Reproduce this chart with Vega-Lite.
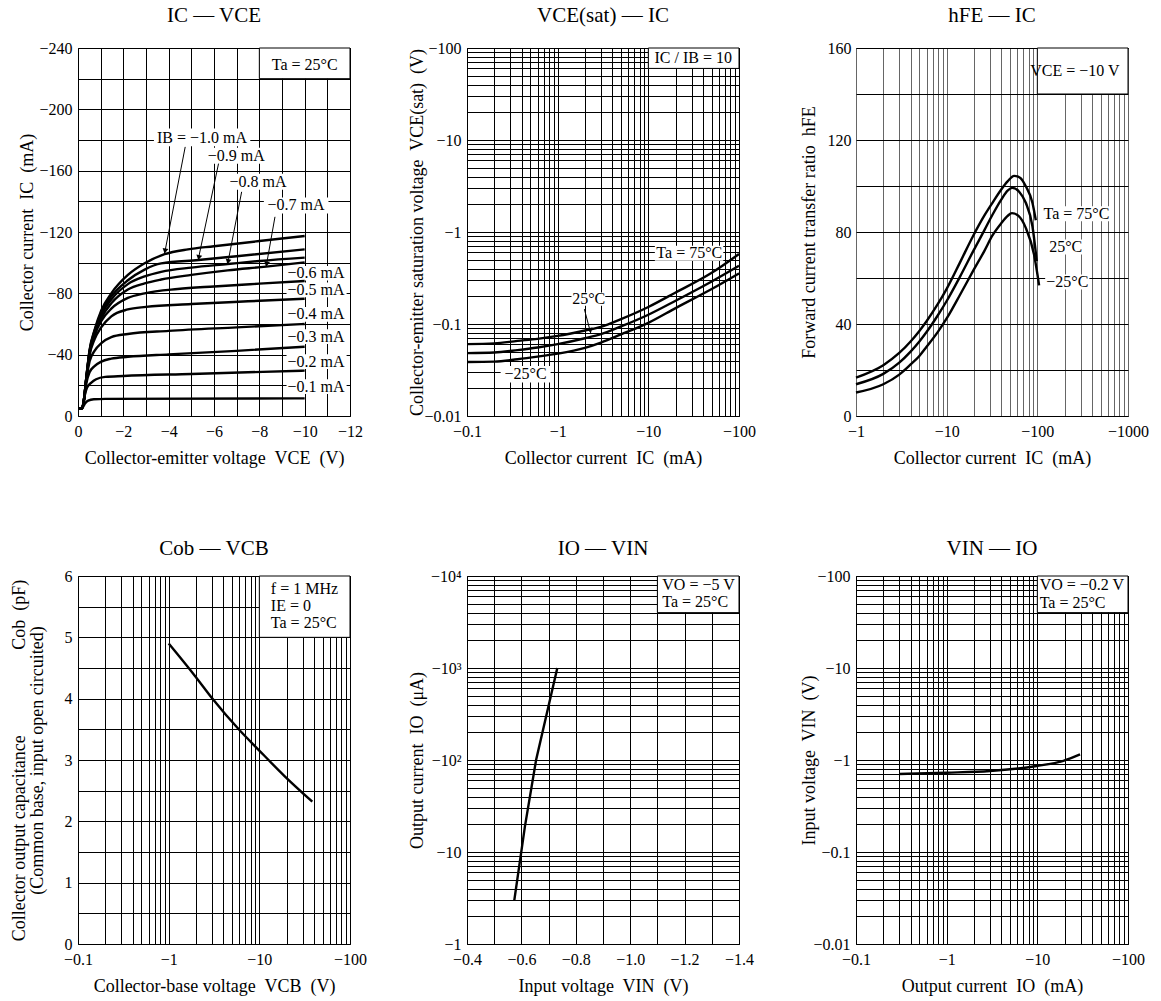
{
  "$schema": "https://vega.github.io/schema/vega-lite/v6.json",
  "background": "white",
  "padding": {"left": 9, "top": 4, "right": 5, "bottom": 5},
  "columns": 3,
  "spacing": {"row": 160, "column": 117},
  "bounds": "flush",
  "config": {
    "font": "Liberation Serif",
    "view": {"stroke": "black", "strokeWidth": 1},
    "axis": {
      "grid": true, "gridColor": "black", "gridOpacity": 1, "gridWidth": 1,
      "domain": false, "ticks": false, "tickSize": 0,
      "labelFont": "Liberation Serif", "labelFontSize": 16, "labelColor": "black",
      "labelOverlap": false, "labelFlush": false, "labelBound": false,
      "titleFont": "Liberation Serif", "titleFontSize": 18, "titleFontWeight": "normal",
      "titleColor": "black", "titleBaseline": "alphabetic"
    },
    "axisX": {"labelBaseline": "alphabetic", "labelPadding": 20, "titleY": 47},
    "axisY": {"labelPadding": 6, "labelBaseline": "middle"},
    "title": {"font": "Liberation Serif", "fontSize": 21, "fontWeight": "normal", "color": "black", "frame": "group", "anchor": "middle", "baseline": "alphabetic", "offset": 14},
    "text": {"font": "Liberation Serif", "fontSize": 16, "color": "black"}
  },
  "datasets": {
    "p1_curves": [
      {"x":0,"y":5,"s":"1.0"},{"x":0.18,"y":5,"s":"1.0"},{"x":0.26,"y":10.4,"s":"1.0"},{"x":0.37,"y":25.6,"s":"1.0"},{"x":0.51,"y":43,"s":"1.0"},{"x":0.73,"y":56,"s":"1.0"},{"x":1.03,"y":69,"s":"1.0"},{"x":1.47,"y":80,"s":"1.0"},{"x":2.2,"y":92,"s":"1.0"},{"x":2.94,"y":99.6,"s":"1.0"},{"x":3.82,"y":105.5,"s":"1.0"},{"x":4.85,"y":108.7,"s":"1.0"},{"x":6,"y":110.7,"s":"1.0"},{"x":8,"y":114.1,"s":"1.0"},{"x":10,"y":117.4,"s":"1.0"},
      {"x":0,"y":5,"s":"0.9"},{"x":0.18,"y":5,"s":"0.9"},{"x":0.26,"y":10.4,"s":"0.9"},{"x":0.37,"y":25.4,"s":"0.9"},{"x":0.51,"y":42.5,"s":"0.9"},{"x":0.73,"y":55.5,"s":"0.9"},{"x":1.03,"y":67.5,"s":"0.9"},{"x":1.47,"y":78,"s":"0.9"},{"x":2.2,"y":88.5,"s":"0.9"},{"x":2.94,"y":95.5,"s":"0.9"},{"x":3.67,"y":99.5,"s":"0.9"},{"x":5.32,"y":101.7,"s":"0.9"},{"x":7,"y":104.2,"s":"0.9"},{"x":10,"y":108.7,"s":"0.9"},
      {"x":0,"y":5,"s":"0.8"},{"x":0.18,"y":5,"s":"0.8"},{"x":0.26,"y":10.4,"s":"0.8"},{"x":0.37,"y":25.2,"s":"0.8"},{"x":0.51,"y":42,"s":"0.8"},{"x":0.73,"y":54.5,"s":"0.8"},{"x":1.03,"y":66,"s":"0.8"},{"x":1.47,"y":76,"s":"0.8"},{"x":2.2,"y":86,"s":"0.8"},{"x":2.94,"y":91,"s":"0.8"},{"x":3.67,"y":94,"s":"0.8"},{"x":5,"y":96.8,"s":"0.8"},{"x":6.6,"y":99.1,"s":"0.8"},{"x":8,"y":101.1,"s":"0.8"},{"x":10,"y":103.3,"s":"0.8"},
      {"x":0,"y":5,"s":"0.7"},{"x":0.18,"y":5,"s":"0.7"},{"x":0.26,"y":10.4,"s":"0.7"},{"x":0.37,"y":25,"s":"0.7"},{"x":0.51,"y":41.5,"s":"0.7"},{"x":0.73,"y":53.5,"s":"0.7"},{"x":1.03,"y":64,"s":"0.7"},{"x":1.47,"y":73.5,"s":"0.7"},{"x":2.2,"y":82.5,"s":"0.7"},{"x":2.94,"y":86.5,"s":"0.7"},{"x":3.67,"y":89,"s":"0.7"},{"x":5,"y":92,"s":"0.7"},{"x":6.6,"y":95,"s":"0.7"},{"x":8.3,"y":97.4,"s":"0.7"},{"x":10,"y":100.2,"s":"0.7"},
      {"x":0,"y":5,"s":"0.6"},{"x":0.18,"y":5,"s":"0.6"},{"x":0.26,"y":10.4,"s":"0.6"},{"x":0.37,"y":24.8,"s":"0.6"},{"x":0.51,"y":41,"s":"0.6"},{"x":0.73,"y":52.5,"s":"0.6"},{"x":1.03,"y":62,"s":"0.6"},{"x":1.47,"y":70,"s":"0.6"},{"x":2.2,"y":77,"s":"0.6"},{"x":2.94,"y":80,"s":"0.6"},{"x":4.4,"y":82.8,"s":"0.6"},{"x":6,"y":84.5,"s":"0.6"},{"x":8,"y":86.3,"s":"0.6"},{"x":10,"y":88,"s":"0.6"},
      {"x":0,"y":5,"s":"0.5"},{"x":0.18,"y":5,"s":"0.5"},{"x":0.26,"y":10.4,"s":"0.5"},{"x":0.37,"y":24.5,"s":"0.5"},{"x":0.51,"y":39.5,"s":"0.5"},{"x":0.73,"y":50,"s":"0.5"},{"x":1.03,"y":58,"s":"0.5"},{"x":1.47,"y":65,"s":"0.5"},{"x":2.2,"y":69.5,"s":"0.5"},{"x":3,"y":71.2,"s":"0.5"},{"x":5,"y":73,"s":"0.5"},{"x":7.5,"y":74.8,"s":"0.5"},{"x":10,"y":76.5,"s":"0.5"},
      {"x":0,"y":5,"s":"0.4"},{"x":0.18,"y":5,"s":"0.4"},{"x":0.26,"y":10.2,"s":"0.4"},{"x":0.37,"y":24,"s":"0.4"},{"x":0.51,"y":35.5,"s":"0.4"},{"x":0.73,"y":42.5,"s":"0.4"},{"x":1.03,"y":47.5,"s":"0.4"},{"x":1.47,"y":51.5,"s":"0.4"},{"x":2.2,"y":53.5,"s":"0.4"},{"x":4,"y":55.5,"s":"0.4"},{"x":7,"y":57.8,"s":"0.4"},{"x":10,"y":60,"s":"0.4"},
      {"x":0,"y":5,"s":"0.3"},{"x":0.18,"y":5,"s":"0.3"},{"x":0.26,"y":10,"s":"0.3"},{"x":0.37,"y":21.5,"s":"0.3"},{"x":0.51,"y":28.5,"s":"0.3"},{"x":0.73,"y":32.5,"s":"0.3"},{"x":1.03,"y":35.5,"s":"0.3"},{"x":1.47,"y":37.4,"s":"0.3"},{"x":2.2,"y":38.6,"s":"0.3"},{"x":4,"y":40.2,"s":"0.3"},{"x":7,"y":42.5,"s":"0.3"},{"x":10,"y":45.2,"s":"0.3"},
      {"x":0,"y":5,"s":"0.2"},{"x":0.18,"y":5,"s":"0.2"},{"x":0.24,"y":8,"s":"0.2"},{"x":0.3,"y":13.5,"s":"0.2"},{"x":0.4,"y":18.5,"s":"0.2"},{"x":0.59,"y":21.8,"s":"0.2"},{"x":0.8,"y":24,"s":"0.2"},{"x":1.2,"y":25.5,"s":"0.2"},{"x":2,"y":26.1,"s":"0.2"},{"x":5,"y":27.4,"s":"0.2"},{"x":10,"y":29.6,"s":"0.2"},
      {"x":0,"y":5,"s":"0.1"},{"x":0.18,"y":5,"s":"0.1"},{"x":0.3,"y":8,"s":"0.1"},{"x":0.45,"y":10,"s":"0.1"},{"x":0.7,"y":10.9,"s":"0.1"},{"x":1.2,"y":11.2,"s":"0.1"},{"x":10,"y":11.5,"s":"0.1"}
    ],
    "p1_text": [
      {"x":10.0,"y":228.7,"label":"Ta = 25°C"},
      {"x":5.47,"y":181.6,"label":"IB = −1.0 mA"},
      {"x":6.98,"y":169.7,"label":"−0.9 mA"},
      {"x":7.94,"y":152.7,"label":"−0.8 mA"},
      {"x":9.62,"y":137.3,"label":"−0.7 mA"},
      {"x":10.5,"y":93.1,"label":"−0.6 mA"},
      {"x":10.5,"y":82.2,"label":"−0.5 mA"},
      {"x":10.5,"y":66.3,"label":"−0.4 mA"},
      {"x":10.5,"y":51.7,"label":"−0.3 mA"},
      {"x":10.5,"y":35.4,"label":"−0.2 mA"},
      {"x":10.5,"y":19.1,"label":"−0.1 mA"}
    ],
    "p1_cond": [{"x":8,"x2":12,"y":220,"y2":240}],
    "p1_lbox": [
      {"x":3.35,"x2":7.6,"y":176,"y2":187.5},
      {"x":5.6,"x2":8.35,"y":164.5,"y2":175},
      {"x":6.6,"x2":9.3,"y":147.5,"y2":158},
      {"x":8.2,"x2":11.05,"y":132,"y2":142.5},
      {"x":9.2,"x2":11.85,"y":88.3,"y2":97.9},
      {"x":9.2,"x2":11.85,"y":77.4,"y2":87},
      {"x":9.2,"x2":11.85,"y":61.5,"y2":71.1},
      {"x":9.2,"x2":11.85,"y":46.9,"y2":56.5},
      {"x":9.2,"x2":11.85,"y":30.6,"y2":40.2},
      {"x":9.2,"x2":11.85,"y":14.3,"y2":23.9}
    ],
    "p1_arrows": [
      {"x":4.73,"y":175.5,"x2":3.82,"y2":106},
      {"x":6.2,"y":164.6,"x2":5.3,"y2":101.7},
      {"x":7.22,"y":146.2,"x2":6.6,"y2":99.1},
      {"x":8.69,"y":129.9,"x2":8.3,"y2":97.4}
    ],
    "p1_heads": [
      {"x":3.84,"y":107.6},{"x":5.33,"y":103.3},{"x":6.62,"y":100.7},{"x":8.32,"y":99}
    ],
    "p2_curves": [
      {"x":0.1,"y":0.0604,"s":"75"},{"x":0.2,"y":0.0615,"s":"75"},{"x":0.36,"y":0.0655,"s":"75"},{"x":0.6,"y":0.069,"s":"75"},{"x":1,"y":0.0743,"s":"75"},{"x":2,"y":0.085,"s":"75"},{"x":3,"y":0.093,"s":"75"},{"x":5,"y":0.113,"s":"75"},{"x":10,"y":0.153,"s":"75"},{"x":20,"y":0.22,"s":"75"},{"x":50,"y":0.36,"s":"75"},{"x":100,"y":0.577,"s":"75"},
      {"x":0.1,"y":0.0483,"s":"25"},{"x":0.2,"y":0.049,"s":"25"},{"x":0.36,"y":0.052,"s":"25"},{"x":0.6,"y":0.0555,"s":"25"},{"x":1,"y":0.0604,"s":"25"},{"x":2,"y":0.07,"s":"25"},{"x":3,"y":0.0775,"s":"25"},{"x":5,"y":0.094,"s":"25"},{"x":10,"y":0.126,"s":"25"},{"x":20,"y":0.179,"s":"25"},{"x":50,"y":0.29,"s":"25"},{"x":100,"y":0.43,"s":"25"},
      {"x":0.1,"y":0.0387,"s":"-25"},{"x":0.2,"y":0.039,"s":"-25"},{"x":0.36,"y":0.0414,"s":"-25"},{"x":0.6,"y":0.0442,"s":"-25"},{"x":1,"y":0.0476,"s":"-25"},{"x":2,"y":0.055,"s":"-25"},{"x":3,"y":0.0628,"s":"-25"},{"x":5,"y":0.077,"s":"-25"},{"x":10,"y":0.103,"s":"-25"},{"x":20,"y":0.149,"s":"-25"},{"x":50,"y":0.24,"s":"-25"},{"x":100,"y":0.355,"s":"-25"}
    ],
    "p2_text": [
      {"x":31.3,"y":78.5,"label":"IC / IB = 10"},
      {"x":28.3,"y":0.596,"label":"Ta = 75°C"},
      {"x":2.2,"y":0.186,"label":"25°C"},
      {"x":0.443,"y":0.0285,"label":"−25°C"}
    ],
    "p2_cond": [{"x":10,"x2":100,"y":60,"y2":100}],
    "p2_lbox": [
      {"x":11.8,"x2":67.1,"y":0.487,"y2":0.71},
      {"x":1.42,"x2":3.35,"y":0.158,"y2":0.22},
      {"x":0.235,"x2":0.836,"y":0.0231,"y2":0.035}
    ],
    "p2_arrows": [{"x":1.97,"y":0.145,"x2":2.31,"y2":0.08}],
    "p2_heads": [{"x":2.29,"y":0.085}],
    "p3_curves": [
      {"x":1,"y":16.7,"s":"75"},{"x":2,"y":22.1,"s":"75"},{"x":3,"y":27.4,"s":"75"},{"x":4,"y":32.4,"s":"75"},{"x":5,"y":37,"s":"75"},{"x":6,"y":41.2,"s":"75"},{"x":8,"y":48.7,"s":"75"},{"x":10,"y":55.3,"s":"75"},{"x":14,"y":66.7,"s":"75"},{"x":19.7,"y":78.5,"s":"75"},{"x":26,"y":87.1,"s":"75"},{"x":32,"y":92.7,"s":"75"},{"x":40,"y":98.5,"s":"75"},{"x":47,"y":102,"s":"75"},{"x":55.5,"y":104.4,"s":"75"},{"x":65,"y":103.5,"s":"75"},{"x":74.6,"y":99.9,"s":"75"},{"x":88.3,"y":92.7,"s":"75"},{"x":96.2,"y":85.1,"s":"75"},
      {"x":1,"y":13.8,"s":"25"},{"x":2,"y":18.3,"s":"25"},{"x":3,"y":23.2,"s":"25"},{"x":4,"y":28,"s":"25"},{"x":5,"y":32.4,"s":"25"},{"x":6,"y":36.5,"s":"25"},{"x":8,"y":43.8,"s":"25"},{"x":10,"y":50,"s":"25"},{"x":14,"y":60.5,"s":"25"},{"x":19.7,"y":71.8,"s":"25"},{"x":26,"y":80.7,"s":"25"},{"x":32,"y":87.5,"s":"25"},{"x":40,"y":94.1,"s":"25"},{"x":47,"y":98,"s":"25"},{"x":53,"y":99.2,"s":"25"},{"x":63,"y":97.5,"s":"25"},{"x":74.6,"y":92.7,"s":"25"},{"x":88.3,"y":82.5,"s":"25"},{"x":98.6,"y":67.3,"s":"25"},
      {"x":1,"y":10.2,"s":"-25"},{"x":2,"y":13.8,"s":"-25"},{"x":3,"y":18,"s":"-25"},{"x":4,"y":22.4,"s":"-25"},{"x":5,"y":26.1,"s":"-25"},{"x":6,"y":30.1,"s":"-25"},{"x":8,"y":36.6,"s":"-25"},{"x":10,"y":42.4,"s":"-25"},{"x":14,"y":52.6,"s":"-25"},{"x":19.7,"y":63.3,"s":"-25"},{"x":26,"y":71.7,"s":"-25"},{"x":32,"y":78.5,"s":"-25"},{"x":40,"y":83.8,"s":"-25"},{"x":47,"y":87,"s":"-25"},{"x":52.4,"y":88.2,"s":"-25"},{"x":62,"y":87,"s":"-25"},{"x":74.6,"y":81.8,"s":"-25"},{"x":92,"y":70.2,"s":"-25"},{"x":104.6,"y":56.8,"s":"-25"}
    ],
    "p3_text": [
      {"x":260,"y":149.8,"label":"VCE = −10 V"},
      {"x":270,"y":88,"label":"Ta = 75°C"},
      {"x":205.8,"y":73.5,"label":"25°C"},
      {"x":214,"y":58.3,"label":"−25°C"}
    ],
    "p3_cond": [{"x":100,"x2":1000,"y":140,"y2":160}],
    "p3_lbox": [
      {"x":115,"x2":640,"y":84.7,"y2":91.2},
      {"x":130,"x2":330,"y":70.2,"y2":76.7},
      {"x":122,"x2":375,"y":55,"y2":61.5}
    ],
    "p4_curves": [
      {"x":1,"y":4.9},{"x":2,"y":4.35},{"x":3,"y":4.01},{"x":6.1,"y":3.48},{"x":9.75,"y":3.17},{"x":19.2,"y":2.73},{"x":38.4,"y":2.32}
    ],
    "p4_text": [
      {"x":13.4,"y":5.79,"label":"f = 1 MHz"},
      {"x":13.4,"y":5.51,"label":"IE = 0"},
      {"x":13.4,"y":5.24,"label":"Ta = 25°C"}
    ],
    "p4_cond": [{"x":10,"x2":100,"y":5,"y2":6}],
    "p5_curves": [
      {"x":0.574,"y":3},{"x":0.613,"y":19},{"x":0.654,"y":100},{"x":0.732,"y":1000}
    ],
    "p5_text": [
      {"x":1.118,"y":7943,"label":"VO = −5 V"},
      {"x":1.118,"y":5248,"label":"Ta = 25°C"}
    ],
    "p5_cond": [{"x":1.1,"x2":1.4,"y":4000,"y2":10000}],
    "p6_curves": [
      {"x":0.3,"y":0.705},{"x":1,"y":0.728},{"x":3,"y":0.76},{"x":9.8,"y":0.86},{"x":19.4,"y":0.98},{"x":29.6,"y":1.15}
    ],
    "p6_text": [
      {"x":10.6,"y":79.8,"label":"VO = −0.2 V"},
      {"x":10.6,"y":51.3,"label":"Ta = 25°C"}
    ],
    "p6_cond": [{"x":10,"x2":100,"y":40,"y2":100}]
  },
  "concat": [
    {
      "width": 272, "height": 368,
      "title": {"text": "IC — VCE"},
      "encoding": {
        "x": {"field": "x", "type": "quantitative", "scale": {"domain": [0, 12], "nice": false},
          "axis": {"title": "Collector-emitter voltage\u00a0 VCE\u00a0 (V)", "values": [0,1,2,3,4,5,6,7,8,9,10,11,12],
            "labelExpr": "datum.value % 2 == 0 ? (datum.value == 0 ? '0' : '−' + datum.value) : ''"}},
        "y": {"field": "y", "type": "quantitative", "scale": {"domain": [0, 240], "nice": false},
          "axis": {"title": "Collector current\u00a0 IC\u00a0 (mA)", "titleX": -45.5, "values": [0,20,40,60,80,100,120,140,160,180,200,220,240],
            "labelExpr": "datum.value % 40 == 0 ? (datum.value == 0 ? '0' : '−' + datum.value) : ''"}}
      },
      "layer": [
        {"data": {"name": "p1_cond"}, "mark": {"type": "rect", "fill": "white", "stroke": "black", "strokeWidth": 1}, "encoding": {"x2": {"field": "x2"}, "y2": {"field": "y2"}}},
        {"data": {"name": "p1_lbox"}, "mark": {"type": "rect", "fill": "white"}, "encoding": {"x2": {"field": "x2"}, "y2": {"field": "y2"}}},
        {"data": {"name": "p1_arrows"}, "mark": {"type": "rule", "color": "black", "strokeWidth": 1}, "encoding": {"x2": {"field": "x2"}, "y2": {"field": "y2"}}},
        {"data": {"name": "p1_heads"}, "mark": {"type": "point", "shape": "triangle-down", "angle": 11, "filled": true, "color": "black", "size": 35, "opacity": 1}},
        {"data": {"name": "p1_curves"}, "mark": {"type": "line", "color": "black", "strokeWidth": 2.4, "interpolate": "monotone"}, "encoding": {"detail": {"field": "s", "type": "nominal"}}},
        {"data": {"name": "p1_text"}, "mark": {"type": "text", "align": "center", "baseline": "middle"}, "encoding": {"text": {"field": "label"}}}
      ]
    },
    {
      "width": 272, "height": 368,
      "title": {"text": "VCE(sat) — IC"},
      "encoding": {
        "x": {"field": "x", "type": "quantitative", "scale": {"type": "log", "domain": [0.1, 100], "nice": false},
          "axis": {"title": "Collector current\u00a0 IC\u00a0 (mA)", "values": [0.1,0.2,0.3,0.4,0.5,0.6,0.7,0.8,0.9,1,2,3,4,5,6,7,8,9,10,20,30,40,50,60,70,80,90,100],
            "labelExpr": "indexof([0.1,1,10,100], datum.value) >= 0 ? '−' + datum.value : ''"}},
        "y": {"field": "y", "type": "quantitative", "scale": {"type": "log", "domain": [0.01, 100], "nice": false},
          "axis": {"title": "Collector-emitter saturation voltage\u00a0 VCE(sat)\u00a0 (V)", "titleX": -44.7, "values": [0.01,0.02,0.03,0.04,0.05,0.06,0.07,0.08,0.09,0.1,0.2,0.3,0.4,0.5,0.6,0.7,0.8,0.9,1,2,3,4,5,6,7,8,9,10,20,30,40,50,60,70,80,90,100],
            "labelExpr": "indexof([0.01,0.1,1,10,100], datum.value) >= 0 ? '−' + datum.value : ''"}}
      },
      "layer": [
        {"data": {"name": "p2_cond"}, "mark": {"type": "rect", "fill": "white", "stroke": "black", "strokeWidth": 1}, "encoding": {"x2": {"field": "x2"}, "y2": {"field": "y2"}}},
        {"data": {"name": "p2_lbox"}, "mark": {"type": "rect", "fill": "white"}, "encoding": {"x2": {"field": "x2"}, "y2": {"field": "y2"}}},
        {"data": {"name": "p2_arrows"}, "mark": {"type": "rule", "color": "black", "strokeWidth": 1}, "encoding": {"x2": {"field": "x2"}, "y2": {"field": "y2"}}},
        {"data": {"name": "p2_heads"}, "mark": {"type": "point", "shape": "triangle-down", "angle": -14, "filled": true, "color": "black", "size": 35, "opacity": 1}},
        {"data": {"name": "p2_curves"}, "mark": {"type": "line", "color": "black", "strokeWidth": 2.4, "interpolate": "monotone"}, "encoding": {"detail": {"field": "s", "type": "nominal"}}},
        {"data": {"name": "p2_text"}, "mark": {"type": "text", "align": "center", "baseline": "middle"}, "encoding": {"text": {"field": "label"}}}
      ]
    },
    {
      "width": 272, "height": 368,
      "title": {"text": "hFE — IC"},
      "encoding": {
        "x": {"field": "x", "type": "quantitative", "scale": {"type": "log", "domain": [1, 1000], "nice": false},
          "axis": {"title": "Collector current\u00a0 IC\u00a0 (mA)", "gridColor": "#666", "values": [1,2,3,4,5,6,7,8,9,10,20,30,40,50,60,70,80,90,100,200,300,400,500,600,700,800,900,1000],
            "labelExpr": "indexof([1,10,100,1000], datum.value) >= 0 ? '−' + datum.value : ''"}},
        "y": {"field": "y", "type": "quantitative", "scale": {"domain": [0, 160], "nice": false},
          "axis": {"title": "Forward current transfer ratio\u00a0 hFE", "titleX": -41.7, "labelPadding": 5, "values": [0,20,40,60,80,100,120,140,160],
            "labelExpr": "datum.value % 40 == 0 ? '' + datum.value : ''"}}
      },
      "layer": [
        {"data": {"name": "p3_cond"}, "mark": {"type": "rect", "fill": "white", "stroke": "black", "strokeWidth": 1}, "encoding": {"x2": {"field": "x2"}, "y2": {"field": "y2"}}},
        {"data": {"name": "p3_lbox"}, "mark": {"type": "rect", "fill": "white"}, "encoding": {"x2": {"field": "x2"}, "y2": {"field": "y2"}}},
        {"data": {"name": "p3_curves"}, "mark": {"type": "line", "color": "black", "strokeWidth": 2.4, "interpolate": "monotone"}, "encoding": {"detail": {"field": "s", "type": "nominal"}}},
        {"data": {"name": "p3_text"}, "mark": {"type": "text", "align": "center", "baseline": "middle"}, "encoding": {"text": {"field": "label"}}}
      ]
    },
    {
      "width": 272, "height": 368,
      "title": {"text": "Cob — VCB", "offset": 9},
      "encoding": {
        "x": {"field": "x", "type": "quantitative", "scale": {"type": "log", "domain": [0.1, 100], "nice": false},
          "axis": {"title": "Collector-base voltage\u00a0 VCB\u00a0 (V)", "values": [0.1,0.2,0.3,0.4,0.5,0.6,0.7,0.8,0.9,1,2,3,4,5,6,7,8,9,10,20,30,40,50,60,70,80,90,100],
            "labelExpr": "indexof([0.1,1,10,100], datum.value) >= 0 ? '−' + datum.value : ''"}},
        "y": {"field": "y", "type": "quantitative", "scale": {"domain": [0, 6], "nice": false},
          "axis": {"title": ["Collector output capacitance\u00a0\u00a0\u00a0\u00a0\u00a0\u00a0\u00a0\u00a0\u00a0\u00a0\u00a0\u00a0\u00a0\u00a0\u00a0\u00a0\u00a0\u00a0\u00a0Cob\u00a0 (pF)", "(Common base, input open circuited)\u00a0\u00a0\u00a0\u00a0\u00a0\u00a0\u00a0\u00a0\u00a0\u00a0\u00a0\u00a0\u00a0\u00a0"],
            "titleX": -53.8, "titleLineHeight": 18, "values": [0,0.5,1,1.5,2,2.5,3,3.5,4,4.5,5,5.5,6],
            "labelExpr": "datum.value % 1 == 0 ? '' + datum.value : ''"}}
      },
      "layer": [
        {"data": {"name": "p4_cond"}, "mark": {"type": "rect", "fill": "white", "stroke": "black", "strokeWidth": 1}, "encoding": {"x2": {"field": "x2"}, "y2": {"field": "y2"}}},
        {"data": {"name": "p4_curves"}, "mark": {"type": "line", "color": "black", "strokeWidth": 2.4, "interpolate": "monotone"}},
        {"data": {"name": "p4_text"}, "mark": {"type": "text", "align": "left", "baseline": "middle"}, "encoding": {"text": {"field": "label"}}}
      ]
    },
    {
      "width": 272, "height": 368,
      "title": {"text": "IO — VIN", "offset": 9},
      "encoding": {
        "x": {"field": "x", "type": "quantitative", "scale": {"domain": [0.4, 1.4], "nice": false, "zero": false},
          "axis": {"title": "Input voltage\u00a0 VIN\u00a0 (V)", "values": [0.4,0.5,0.6,0.7,0.8,0.9,1,1.1,1.2,1.3,1.4],
            "labelExpr": "round(datum.value * 10) % 2 == 0 ? '−' + format(datum.value, '.1f') : ''"}},
        "y": {"field": "y", "type": "quantitative", "scale": {"type": "log", "domain": [1, 10000], "nice": false},
          "axis": {"title": "Output current\u00a0 IO\u00a0 (μA)", "titleX": -44.7, "values": [1,2,3,4,5,6,7,8,9,10,20,30,40,50,60,70,80,90,100,200,300,400,500,600,700,800,900,1000,2000,3000,4000,5000,6000,7000,8000,9000,10000],
            "labelExpr": "datum.value == 1 ? '−1' : datum.value == 10 ? '−10' : datum.value == 100 ? '−10²' : datum.value == 1000 ? '−10³' : datum.value == 10000 ? '−10⁴' : ''"}}
      },
      "layer": [
        {"data": {"name": "p5_cond"}, "mark": {"type": "rect", "fill": "white", "stroke": "black", "strokeWidth": 1}, "encoding": {"x2": {"field": "x2"}, "y2": {"field": "y2"}}},
        {"data": {"name": "p5_curves"}, "mark": {"type": "line", "color": "black", "strokeWidth": 2.4}},
        {"data": {"name": "p5_text"}, "mark": {"type": "text", "align": "left", "baseline": "middle"}, "encoding": {"text": {"field": "label"}}}
      ]
    },
    {
      "width": 272, "height": 368,
      "title": {"text": "VIN — IO", "offset": 9},
      "encoding": {
        "x": {"field": "x", "type": "quantitative", "scale": {"type": "log", "domain": [0.1, 100], "nice": false},
          "axis": {"title": "Output current\u00a0 IO\u00a0 (mA)", "values": [0.1,0.2,0.3,0.4,0.5,0.6,0.7,0.8,0.9,1,2,3,4,5,6,7,8,9,10,20,30,40,50,60,70,80,90,100],
            "labelExpr": "indexof([0.1,1,10,100], datum.value) >= 0 ? '−' + datum.value : ''"}},
        "y": {"field": "y", "type": "quantitative", "scale": {"type": "log", "domain": [0.01, 100], "nice": false},
          "axis": {"title": "Input voltage\u00a0 VIN\u00a0 (V)", "titleX": -42, "values": [0.01,0.02,0.03,0.04,0.05,0.06,0.07,0.08,0.09,0.1,0.2,0.3,0.4,0.5,0.6,0.7,0.8,0.9,1,2,3,4,5,6,7,8,9,10,20,30,40,50,60,70,80,90,100],
            "labelExpr": "indexof([0.01,0.1,1,10,100], datum.value) >= 0 ? '−' + datum.value : ''"}}
      },
      "layer": [
        {"data": {"name": "p6_cond"}, "mark": {"type": "rect", "fill": "white", "stroke": "black", "strokeWidth": 1}, "encoding": {"x2": {"field": "x2"}, "y2": {"field": "y2"}}},
        {"data": {"name": "p6_curves"}, "mark": {"type": "line", "color": "black", "strokeWidth": 2.4, "interpolate": "monotone"}},
        {"data": {"name": "p6_text"}, "mark": {"type": "text", "align": "left", "baseline": "middle"}, "encoding": {"text": {"field": "label"}}}
      ]
    }
  ]
}
